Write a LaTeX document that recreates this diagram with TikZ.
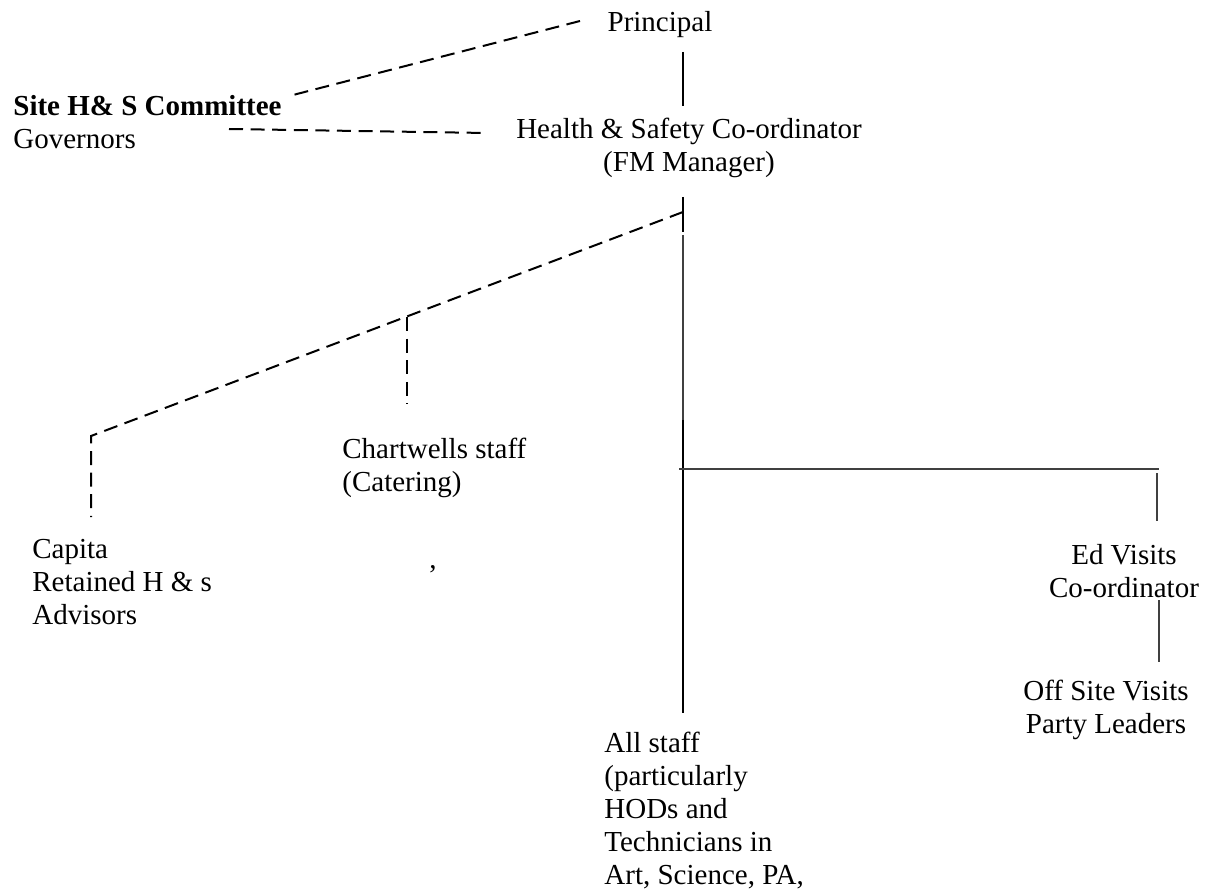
\documentclass[tikz,border=0pt]{standalone}
\usepackage{fontspec}
\setmainfont{Liberation Serif}
\usetikzlibrary{positioning,calc}

\begin{document}
\begin{tikzpicture}[x=0.5pt,y=-0.5pt,
         role/.style = {inner sep=0pt, font=\fontsize{14.5pt}{16.5pt}\selectfont},
         link/.style = {line width=1pt, dash pattern=on 7pt off 3.8pt},
         solidlink/.style = {line width=1pt},
         thinlink/.style = {line width=0.55pt, black!75}
]
   \useasboundingbox (0,0) rectangle (1211,893);

   % top of the tree (base = last line)
   \node[role, anchor=base] (principal) at (660,32) {Principal};
   \node[role, anchor=base, align=center] (hsco) at (689,172)
      {Health \& Safety Co-ordinator\\(FM Manager)};
   \node[role, anchor=base west, align=left] (committee) at (13,149)
      {\textbf{Site H\& S Committee}\\Governors};

   % lower roles
   \node[role, anchor=base west, align=left] (capita) at (32,624)
      {Capita\\Retained H \& s\\Advisors};
   \node[role, anchor=base west, align=left] (chartwells) at (342,491)
      {Chartwells staff\\(Catering)};
   \node[role, anchor=base] (comma) at (433,568) {,};
   \node[role, anchor=base west, align=left] (allstaff) at (604,884)
      {All staff\\(particularly\\HODs and\\Technicians in\\Art, Science, PA,};
   \node[role, anchor=base, align=center] (edvisits) at (1124,597)
      {Ed Visits\\Co-ordinator};
   \node[role, anchor=base, align=center] (offsite) at (1106,733)
      {Off Site Visits\\Party Leaders};

   % connector ends
   \coordinate (p0) at (580,21);
   \coordinate (c0) at (293,95);
   \coordinate (g0) at (229,129);
   \coordinate (h0) at (487,133);
   \coordinate (p1) at (683,52);
   \coordinate (h1) at (683,106);
   \coordinate (h2) at (683,197);
   \coordinate (h3) at (683,212);
   \coordinate (h4) at (683,232);
   \coordinate (s0) at (683,235);
   \coordinate (s1) at (683,420);
   \coordinate (s2) at (683,713);
   \coordinate (k0) at (91,436);
   \coordinate (k1) at (91,517);
   \coordinate (w0) at (407,317);
   \coordinate (w1) at (407,404);
   \coordinate (r0) at (679,469);
   \coordinate (r1) at (1159,469);
   \coordinate (e0) at (1157,473);
   \coordinate (e1) at (1157,521);
   \coordinate (e2) at (1159,600);
   \coordinate (e3) at (1159,662);

   % committee links
   \draw[link] (p0) -- (c0);
   \draw[link] (g0) -- (h0);
   \draw[solidlink] (p1) -- (h1);

   % co-ordinator down to staff
   \draw[solidlink] (h2) -- (h4);
   \draw[thinlink] (s0) -- (s1);
   \draw[solidlink] (s1) -- (s2);

   % contractors
   \draw[link] (h3) -- (k0) -- (k1);
   \draw[link] (w0) -- (w1);

   % educational visits
   \draw[thinlink] (r0) -- (r1);
   \draw[thinlink] (e0) -- (e1);
   \draw[thinlink] (e2) -- (e3);
\end{tikzpicture}
\end{document}
